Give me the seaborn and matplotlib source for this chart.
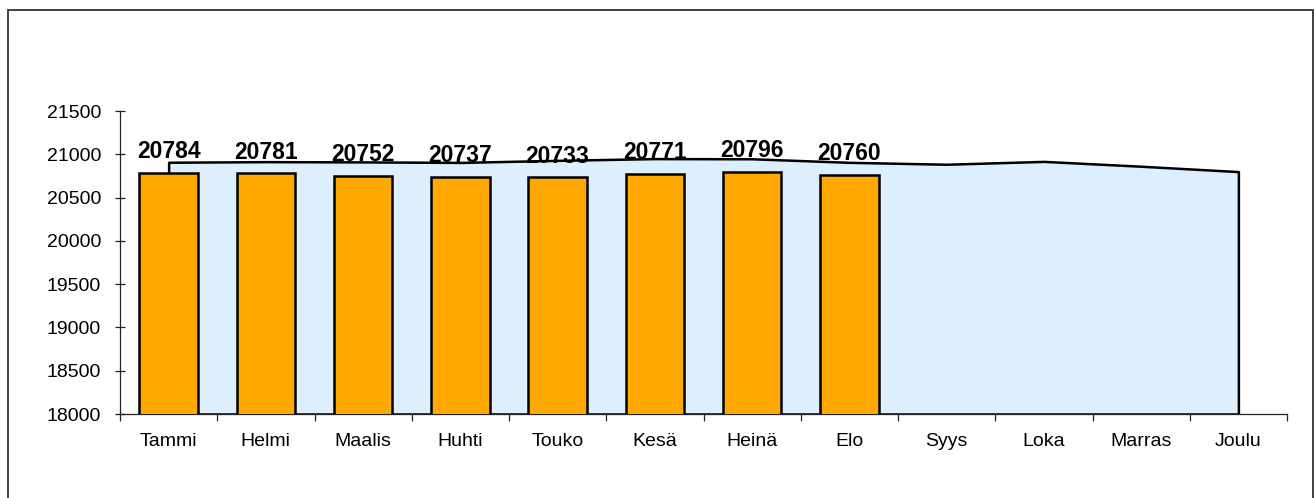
import matplotlib
matplotlib.use("Agg")
import matplotlib.pyplot as plt
import seaborn as sns
import pandas as pd
from matplotlib.patches import Rectangle

# kuukaudet ja arvot
months = ['Tammi', 'Helmi', 'Maalis', 'Huhti', 'Touko', 'Kesä',
          'Heinä', 'Elo', 'Syys', 'Loka', 'Marras', 'Joulu']
bar_values = [20784, 20781, 20752, 20737, 20733, 20771, 20796, 20760]
area_values = [20908, 20915, 20912, 20906, 20930, 20950,
               20948, 20907, 20885, 20918, 20862, 20800]
y_ticks = [18000, 18500, 19000, 19500, 20000, 20500, 21000, 21500]

sns.set_theme(style="white")
plt.rcParams['font.family'] = ['Liberation Sans', 'DejaVu Sans']

fig = plt.figure(figsize=(13.14, 4.98), dpi=100)
# kehys kuvan ympärillä (alareuna jatkuu kuvan ulkopuolelle)
fig.patches.append(Rectangle((7.5 / 1314, -10 / 498), 1305 / 1314, 498 / 498,
                             transform=fig.transFigure, fill=False,
                             edgecolor='#333333', linewidth=1.3))
ax = fig.add_axes([120 / 1314, 84 / 498, 1167 / 1314, 303 / 498])

df = pd.DataFrame({'kk': months[:len(bar_values)], 'arvo': bar_values})

x = list(range(len(months)))
ax.fill_between(x, area_values, 18000, facecolor='#DDEEFD',
                edgecolor='black', linewidth=1.8, zorder=1)

sns.barplot(data=df, x='kk', y='arvo', order=months, color='#FFA800',
            saturation=1, width=0.6, edgecolor='black', linewidth=1.8,
            ax=ax, zorder=3)

for i, v in enumerate(bar_values):
    ax.annotate(str(v), (i, v), xytext=(0, 7), textcoords='offset points',
                ha='center', va='bottom', fontsize=16.5, fontweight='bold',
                color='black')

ax.set_xlim(-0.5, len(months) - 0.5)
ax.set_ylim(18000, 21500)
ax.set_yticks(y_ticks)
ax.set_yticklabels([str(t) for t in y_ticks], fontsize=14, color='black')
ax.set_xticks(x)
ax.set_xticklabels(months, fontsize=14, color='black')
ax.set_xlabel('')
ax.set_ylabel('')

for side in ['top', 'right']:
    ax.spines[side].set_visible(False)
for side in ['left', 'bottom']:
    ax.spines[side].set_color('#222222')
    ax.spines[side].set_linewidth(0.9)

# pienet väliviivat kuukausien väliin
ax.set_xticks([i - 0.5 for i in range(len(months) + 1)], minor=True)
ax.tick_params(axis='x', which='major', length=0, pad=14)
ax.tick_params(axis='x', which='minor', direction='out', length=5,
               width=0.9, color='#222222', bottom=True)
ax.tick_params(axis='y', direction='inout', length=7, width=0.9,
               color='#222222', left=True, pad=10)

fig.savefig('out.png', dpi=100)
